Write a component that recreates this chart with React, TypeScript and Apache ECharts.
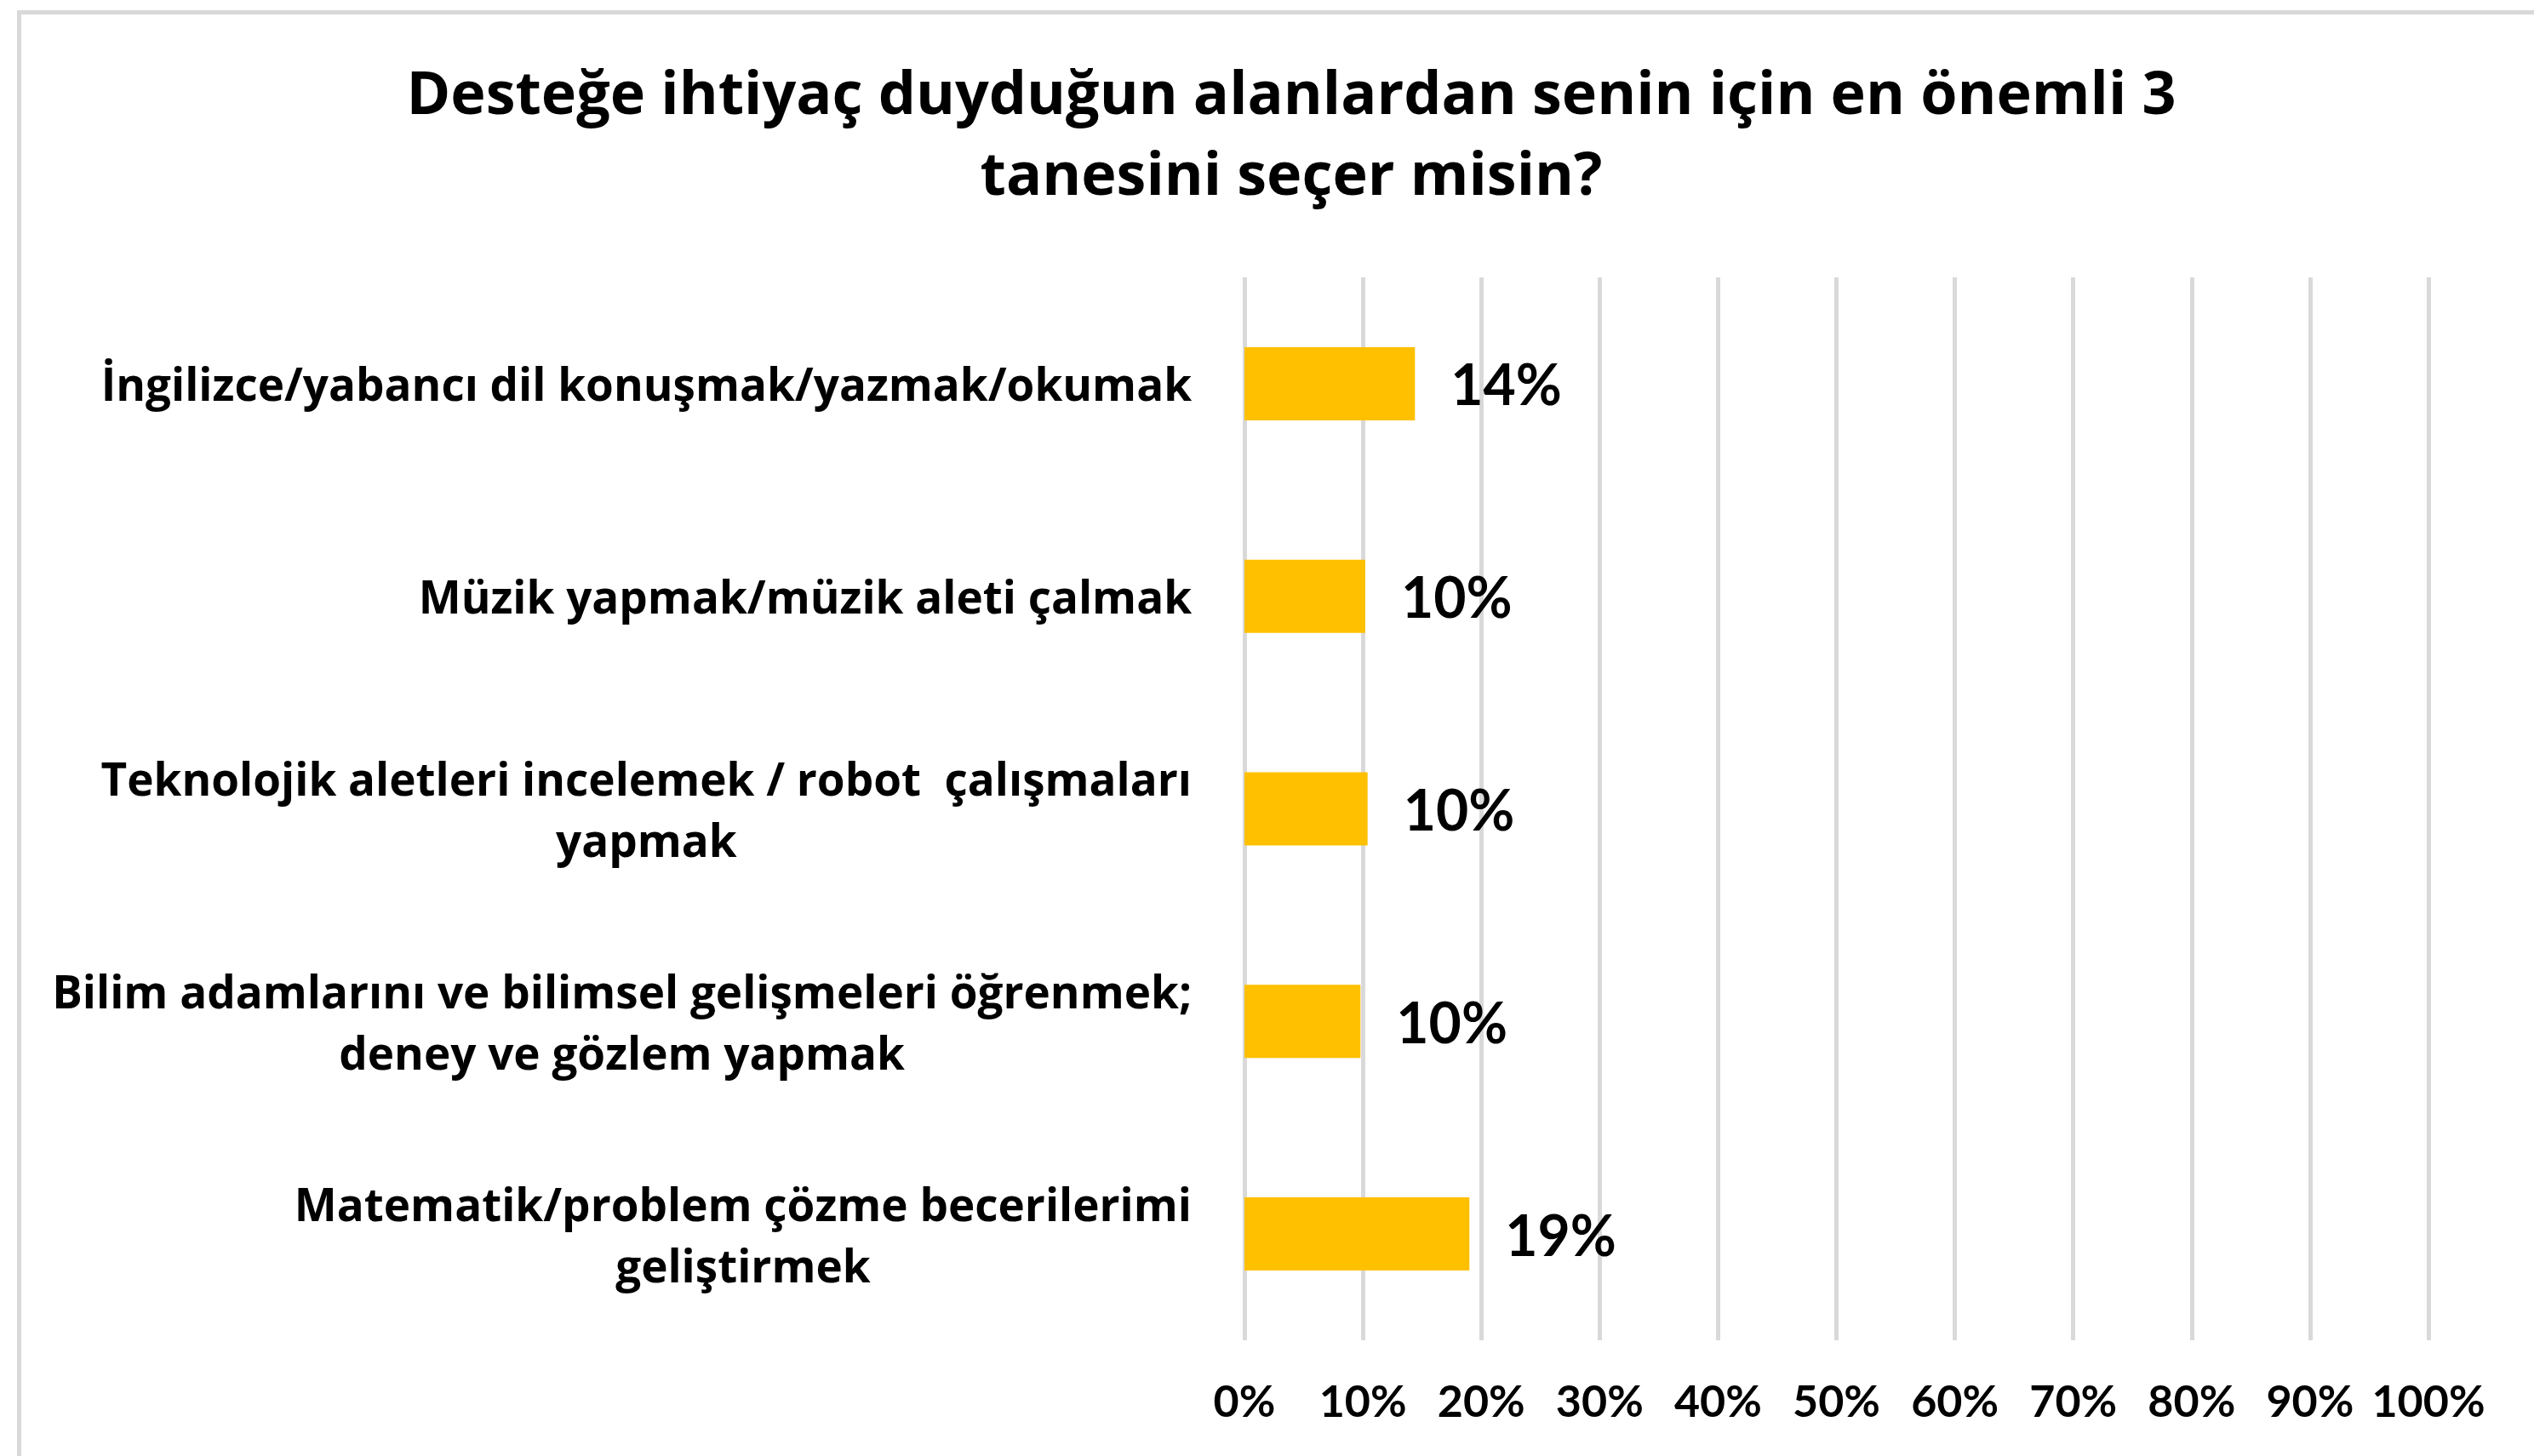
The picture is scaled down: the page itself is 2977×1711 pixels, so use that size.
import React, { useEffect, useRef } from "react";
import * as echarts from "echarts";

const titleText = "Desteğe ihtiyaç duyduğun alanlardan senin için en önemli 3\ntanesini seçer misin?";
const categories = [
  "İngilizce/yabancı dil konuşmak/yazmak/okumak",
  "Müzik yapmak/müzik aleti çalmak",
  "Teknolojik aletleri incelemek / robot  çalışmaları\nyapmak",
  "Bilim adamlarını ve bilimsel gelişmeleri öğrenmek;\ndeney ve gözlem yapmak",
  "Matematik/problem çözme becerilerimi\ngeliştirmek",
];
const values = [14.4, 10.2, 10.4, 9.8, 19.0];
const axisMin = 0;
const axisMax = 100;
const axisStep = 10;

const FONT = "Lato, 'Open Sans', sans-serif";
const WIDE = "'Open Sans', Lato, sans-serif";

export default function App() {
  const ref = useRef<HTMLDivElement>(null);
  useEffect(() => {
    document.body.style.margin = "0";
    const chart = echarts.init(ref.current!, null, { renderer: "svg" });
    chart.setOption({
      animation: false,
      backgroundColor: "#ffffff",
      title: {
        text: titleText,
        left: 1512,
        textAlign: "center",
        top: 54,
        textStyle: {
          fontFamily: WIDE,
          fontWeight: "bold",
          fontSize: 70,
          lineHeight: 95,
          color: "#000000",
        },
      },
      graphic: [
        {
          type: "rect",
          shape: { x: 22.5, y: 14.5, width: 3100, height: 1900 },
          style: { fill: "none", stroke: "#d9d9d9", lineWidth: 5 },
          silent: true,
        },
      ],
      grid: { left: 1462, right: 124, top: 326, bottom: 136 },
      xAxis: {
        type: "value",
        min: axisMin,
        max: axisMax,
        interval: axisStep,
        axisLine: { show: false },
        axisTick: { show: false },
        splitLine: { show: true, lineStyle: { color: "#d9d9d9", width: 5 } },
        axisLabel: {
          formatter: "{value}%",
          fontFamily: FONT,
          fontWeight: "bold",
          fontSize: 52,
          color: "#000000",
          margin: 44,
        },
      },
      yAxis: {
        type: "category",
        data: categories,
        inverse: true,
        axisLine: { show: false },
        axisTick: { show: false },
        splitLine: { show: false },
        axisLabel: {
          margin: 62,
          formatter: (v: string) =>
            v.split("\n").map((l) => `{a|${l}}`).join("\n"),
          rich: {
            a: {
              align: "center",
              fontFamily: WIDE,
              fontWeight: "bold",
              fontSize: 53,
              lineHeight: 72,
              color: "#000000",
            },
          },
        },
      },
      series: [
        {
          type: "bar",
          data: values,
          barWidth: 86,
          itemStyle: { color: "#FFC000" },
          label: {
            show: true,
            position: "right",
            distance: 42,
            formatter: (p: any) => Math.round(p.value) + "%",
            fontFamily: FONT,
            fontWeight: "bold",
            fontSize: 66,
            color: "#000000",
          },
        },
      ],
    });
    return () => chart.dispose();
  }, []);
  return (
    <div
      ref={ref}
      style={{ position: "absolute", left: 0, top: 0, width: 2977, height: 1711 }}
    />
  );
}
